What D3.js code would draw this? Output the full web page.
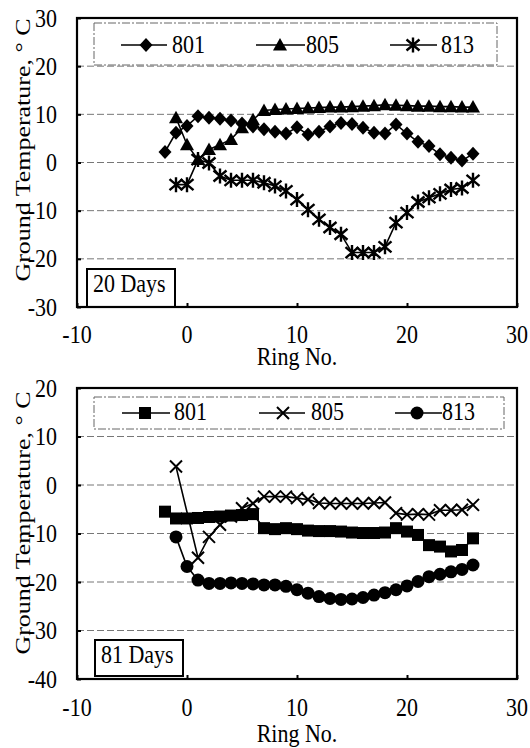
<!DOCTYPE html>
<html>
<head>
<meta charset="utf-8">
<script src="https://cdn.jsdelivr.net/npm/d3@7"></script>
<style>
  body { margin: 0; background: #fff; }
  svg { display: block; }
  text { font-family: "Liberation Serif", "Times New Roman", serif; fill: #000; }
</style>
</head>
<body>
<svg id="chart" width="530" height="748"></svg>
<script>
// ring numbers for each series
const ringsA = [-2, -1, 0, 1, 2, 3, 4, 5, 6, 7, 8, 9, 10, 11, 12, 13, 14, 15, 16, 17, 18, 19, 20, 21, 22, 23, 24, 25, 26];
const ringsB = [-1, 0, 1, 2, 3, 4, 5, 6, 7, 8, 9, 10, 11, 12, 13, 14, 15, 16, 17, 18, 19, 20, 21, 22, 23, 24, 25, 26];
const ringsC = [-1, 1, 2, 3, 4, 5, 6, 7, 8, 9, 10, 11, 12, 13, 14, 15, 16, 17, 18, 19, 20, 21, 22, 23, 24, 25, 26];

// 20 days (deg C)
const day20_801 = [2.2, 6.2, 7.6, 9.6, 9.3, 9.1, 8.7, 8.1, 7.5, 6.9, 6.4, 6.0, 7.3, 5.8, 6.4, 7.5, 8.2, 8.0, 7.2, 6.2, 6.0, 7.9, 6.0, 4.3, 3.4, 1.7, 1.0, 0.4, 1.8];
const day20_805 = [9.3, 3.7, 0.6, 2.7, 3.7, 4.8, 7.2, 8.9, 10.8, 11.0, 11.1, 11.2, 11.3, 11.4, 11.5, 11.5, 11.6, 11.7, 11.8, 12.0, 11.9, 11.8, 11.7, 11.7, 11.6, 11.6, 11.5, 11.5];
const day20_813 = [-4.6, -4.6, 0.6, -0.1, -2.8, -3.7, -3.7, -3.7, -4.2, -4.9, -5.9, -7.7, -9.8, -11.8, -13.5, -14.9, -18.7, -18.7, -18.7, -17.5, -12.5, -10.4, -8.2, -7.3, -6.5, -5.6, -5.3, -3.7];

// 81 days (deg C)
const day81_801 = [-5.5, -6.9, -6.9, -6.8, -6.6, -6.5, -6.3, -6.2, -6.0, -8.9, -9.1, -8.9, -9.1, -9.4, -9.5, -9.5, -9.6, -9.8, -9.9, -9.9, -9.8, -8.9, -9.6, -10.3, -12.4, -12.7, -13.7, -13.4, -11.0];
const day81_805 = [3.8, -15.0, -10.7, -8.2, -6.5, -4.8, -3.8, -2.4, -2.4, -2.4, -2.7, -3.0, -3.7, -3.8, -3.8, -3.8, -3.8, -3.7, -3.6, -5.8, -6.1, -6.0, -6.1, -5.2, -5.2, -5.1, -4.1];
const day81_813 = [-10.7, -16.8, -19.6, -20.3, -20.3, -20.2, -20.3, -20.4, -20.6, -20.6, -20.9, -21.6, -22.3, -23.0, -23.4, -23.6, -23.5, -23.2, -22.7, -22.2, -21.6, -20.8, -19.9, -18.9, -18.4, -17.9, -17.4, -16.5];

const seriesNames = ["801", "805", "813"];
const xTicks = [-10, 0, 10, 20, 30];
const yTicks20 = [30, 20, 10, 0, -10, -20, -30];
const yTicks81 = [20, 10, 0, -10, -20, -30, -40];

const svg = d3.select("#chart");
const left = 77, right = 517;
const fs = 22, sy = 1.18;   // the scan is a bit stretched vertically

const xScale = d3.scaleLinear().domain([-10, 30]).range([left, right]);

const panels = [
  {
    top: 18, bottom: 307, yDomain: [-30, 30], yTicks: yTicks20, tag: "20 Days",
    series: [
      { rings: ringsA, values: day20_801, marker: "diamond" },
      { rings: ringsB, values: day20_805, marker: "triangle" },
      { rings: ringsB, values: day20_813, marker: "star" }
    ],
    legend: { x0: 94, x1: 497, y0: 23, y1: 65, my: 45, base: 53,
      items: [{ l0: 121, l1: 167, mx: 146, tx: 172 }, { l0: 256, l1: 305, mx: 280, tx: 306 }, { l0: 390, l1: 437, mx: 413, tx: 441 }] },
    tagBox: { x0: 87, x1: 175, y0: 269, y1: 307, tx: 93, base: 292 },
    tickBase: 343, titleBase: 365, ylabelY: 150
  },
  {
    top: 388, bottom: 679, yDomain: [-40, 20], yTicks: yTicks81, tag: "81 Days",
    series: [
      { rings: ringsA, values: day81_801, marker: "square" },
      { rings: ringsC, values: day81_805, marker: "cross" },
      { rings: ringsB, values: day81_813, marker: "circle" }
    ],
    legend: { x0: 94, x1: 504, y0: 397, y1: 429, my: 413, base: 420,
      items: [{ l0: 122, l1: 170, mx: 145, tx: 174 }, { l0: 259, l1: 305, mx: 283, tx: 311 }, { l0: 395, l1: 442, mx: 417, tx: 442 }] },
    tagBox: { x0: 95, x1: 183, y0: 640, y1: 676, tx: 101, base: 663 },
    tickBase: 716, titleBase: 742, ylabelY: 523
  }
];

function addText(g, str, x, y, anchor) {
  return g.append("text")
    .attr("transform", `translate(${x},${y}) scale(1,${sy})`)
    .attr("font-size", fs)
    .attr("text-anchor", anchor || "start")
    .text(str);
}

function drawMarker(g, type) {
  if (type === "diamond") {
    g.append("path").attr("d", "M0,-7L6.5,0L0,7L-6.5,0Z").attr("fill", "#000");
  } else if (type === "triangle") {
    g.append("path").attr("d", "M0,-7L7,5.5L-7,5.5Z").attr("fill", "#000");
  } else if (type === "star") {
    g.append("path").attr("d", "M-6.5,-5.5L6.5,5.5M-6.5,5.5L6.5,-5.5M0,-7.5L0,7.5")
      .attr("stroke", "#000").attr("stroke-width", 2.4).attr("fill", "none");
  } else if (type === "square") {
    g.append("rect").attr("x", -6).attr("y", -6).attr("width", 12).attr("height", 12).attr("fill", "#000");
  } else if (type === "cross") {
    g.append("path").attr("d", "M-6,-6L6,6M-6,6L6,-6")
      .attr("stroke", "#000").attr("stroke-width", 2).attr("fill", "none");
  } else if (type === "circle") {
    g.append("circle").attr("r", 6.5).attr("fill", "#000");
  }
}

panels.forEach(p => {
  const yScale = d3.scaleLinear().domain(p.yDomain).range([p.bottom, p.top]);
  const g = svg.append("g");

  // grid
  g.selectAll(".grid")
    .data(p.yTicks.slice(1, -1))
    .enter().append("line")
    .attr("x1", left).attr("x2", right)
    .attr("y1", d => yScale(d)).attr("y2", d => yScale(d))
    .attr("stroke", "#777").attr("stroke-width", 1)
    .attr("stroke-dasharray", "7,3");

  // tick marks
  const ya = g.append("g").attr("transform", `translate(${left},0)`)
    .call(d3.axisLeft(yScale).tickValues(p.yTicks).tickSize(-4).tickFormat(""));
  const xa = g.append("g").attr("transform", `translate(0,${p.bottom})`)
    .call(d3.axisBottom(xScale).tickValues(xTicks).tickSize(-4).tickFormat(""));
  [ya, xa].forEach(a => {
    a.select(".domain").remove();
    a.selectAll("line").attr("stroke", "#000").attr("stroke-width", 2);
  });

  // tick labels
  p.yTicks.forEach(v => addText(g, String(v), left - 20, yScale(v) + 8.5, "end"));
  xTicks.forEach(v => addText(g, String(v), xScale(v), p.tickBase, "middle"));

  addText(g, "Ring No.", (left + right) / 2, p.titleBase, "middle");
  g.append("text")
    .attr("transform", `translate(30,${p.ylabelY}) rotate(-90) scale(${sy},1)`)
    .attr("font-size", fs)
    .attr("text-anchor", "middle")
    .text("Ground Temperature,  \u00B0 C");

  // legend
  const L = p.legend;
  g.append("rect")
    .attr("x", L.x0).attr("y", L.y0).attr("width", L.x1 - L.x0).attr("height", L.y1 - L.y0)
    .attr("fill", "#fff").attr("stroke", "#666").attr("stroke-width", 1)
    .attr("stroke-dasharray", "8,2,2,2");
  L.items.forEach((it, i) => {
    g.append("line").attr("x1", it.l0).attr("x2", it.l1).attr("y1", L.my).attr("y2", L.my)
      .attr("stroke", "#000").attr("stroke-width", 1.6);
    drawMarker(g.append("g").attr("transform", `translate(${it.mx},${L.my})`), p.series[i].marker);
    addText(g, seriesNames[i], it.tx, L.base);
  });

  // series
  const line = d3.line().x(d => xScale(d[0])).y(d => yScale(d[1]));
  p.series.forEach(s => {
    const pts = s.rings.map((r, i) => [r, s.values[i]]);
    g.append("path").datum(pts).attr("d", line)
      .attr("fill", "none").attr("stroke", "#000").attr("stroke-width", 1.6);
    g.selectAll(null).data(pts).enter().append("g")
      .attr("transform", d => `translate(${xScale(d[0])},${yScale(d[1])})`)
      .each(function () { drawMarker(d3.select(this), s.marker); });
  });

  // day tag
  const T = p.tagBox;
  g.append("rect")
    .attr("x", T.x0).attr("y", T.y0).attr("width", T.x1 - T.x0).attr("height", T.y1 - T.y0)
    .attr("fill", "#fff").attr("stroke", "#000").attr("stroke-width", 2);
  addText(g, p.tag, T.tx, T.base);

  // frame
  g.append("rect")
    .attr("x", left).attr("y", p.top).attr("width", right - left).attr("height", p.bottom - p.top)
    .attr("fill", "none").attr("stroke", "#000").attr("stroke-width", 2.2);
});
</script>
</body>
</html>
